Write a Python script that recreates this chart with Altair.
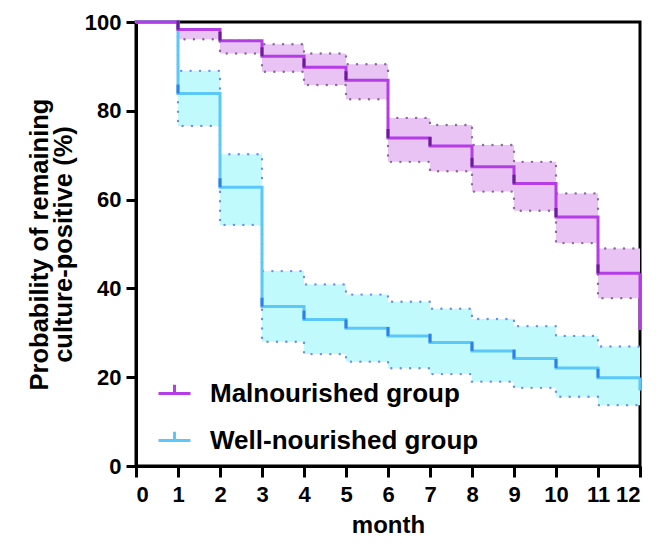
import altair as alt
import pandas as pd

months = list(range(0, 13))
groups = ["Malnourished group", "Well-nourished group"]

# step values for intervals starting at month 0..11
mal_est = [100, 98.3, 95.8, 92.3, 89.8, 86.9, 73.9, 72.1, 67.4, 63.6, 56.1, 43.4]
mal_hi = [100, 98.3, 95.8, 95.0, 92.9, 90.5, 78.4, 76.8, 72.3, 68.5, 61.4, 49.0]
mal_lo = [100, 96.1, 92.9, 88.8, 85.8, 82.6, 68.5, 66.4, 61.8, 57.5, 50.2, 37.8]
mal_end = 30.6

well_est = [100, 83.9, 62.8, 35.9, 33.0, 31.0, 29.3, 27.8, 25.9, 24.2, 22.1, 19.9]
well_hi = [100, 89.0, 70.2, 43.9, 40.9, 38.6, 37.0, 35.4, 33.1, 31.5, 29.3, 26.9]
well_lo = [100, 76.6, 54.3, 28.0, 25.2, 23.5, 22.0, 20.7, 19.0, 17.6, 15.6, 13.7]
well_end = 17.0

x_ticks = list(range(0, 13))
y_ticks = [0, 20, 40, 60, 80, 100]

line_colors = ["#B43DE6", "#5CC8FA"]
fill_colors = ["#E8C3F4", "#C0FAFC"]
dot_colors = ["#8A6A9C", "#6C8FF0"]
tick_colors = ["#6A1E96", "#2F7FE6"]

rows = []
for g, est, hi, lo in [(groups[0], mal_est, mal_hi, mal_lo), (groups[1], well_est, well_hi, well_lo)]:
    for i, m in enumerate(months):
        j = min(i, len(est) - 1)
        rows.append({"month": m, "group": g, "est": est[j], "hi": hi[j], "lo": lo[j]})
df = pd.DataFrame(rows)

ci_rows = []
for r in rows:
    ci_rows.append({"month": r["month"], "group": r["group"], "bound": "hi", "v": r["hi"]})
    ci_rows.append({"month": r["month"], "group": r["group"], "bound": "lo", "v": r["lo"]})
ci_df = pd.DataFrame(ci_rows)

tick_rows = []
for g, est in [(groups[0], mal_est), (groups[1], well_est)]:
    for m in range(1, 12):
        tick_rows.append({"month": m, "group": g, "y1": est[m], "y2": est[m] + 2.0})
tick_df = pd.DataFrame(tick_rows)

end_df = pd.DataFrame([
    {"month": 12, "group": groups[0], "y1": mal_est[-1], "y2": mal_end},
    {"month": 12, "group": groups[1], "y1": well_est[-1], "y2": well_end},
])

xs = alt.Scale(domain=[0, 12], nice=False)
ys = alt.Scale(domain=[0, 100], nice=False)

X = alt.X("month:Q", scale=xs,
          axis=alt.Axis(values=x_ticks, title="month", format="d"))
Y = alt.Y("est:Q", scale=ys,
          axis=alt.Axis(values=y_ticks,
                        title=["Probability of remaining", "culture-positive (%)"]))

fill_scale = alt.Scale(domain=groups, range=fill_colors)
line_scale = alt.Scale(domain=groups, range=line_colors)
dot_scale = alt.Scale(domain=groups, range=dot_colors)
tick_scale = alt.Scale(domain=groups, range=tick_colors)

area = alt.Chart(df).mark_area(interpolate="step-after", opacity=1).encode(
    x=X,
    y=alt.Y("lo:Q", scale=ys),
    y2="hi:Q",
    fill=alt.Fill("group:N", scale=fill_scale, legend=None),
    order=alt.Order("group:N", sort="descending"),
)

dots = alt.Chart(ci_df).mark_line(
    interpolate="step-after", strokeDash=[0.1, 9.3], strokeCap="round", strokeWidth=2.4
).encode(
    x=alt.X("month:Q", scale=xs),
    y=alt.Y("v:Q", scale=ys),
    stroke=alt.Stroke("group:N", scale=dot_scale, legend=None),
    detail="bound:N",
)

well_line = alt.Chart(df[df.group == groups[1]]).mark_line(
    interpolate="step-after", strokeWidth=3).encode(
    x=X, y=Y,
    color=alt.Color("group:N", scale=line_scale, title=None,
                    legend=alt.Legend(orient="none", legendX=21, legendY=354,
                                      symbolType="M-1,0L1,0M0,0L0,-0.55",
                                      symbolSize=1024, symbolStrokeWidth=3,
                                      labelFontSize=26, labelFont="Liberation Sans",
                                      labelFontWeight="bold", labelColor="black",
                                      labelOffset=18, rowPadding=16,
                                      labelLimit=400)),
)
mal_line = alt.Chart(df[df.group == groups[0]]).mark_line(
    interpolate="step-after", strokeWidth=3).encode(
    x=X, y=Y,
    color=alt.Color("group:N", scale=line_scale, legend=None),
)

ticks = alt.Chart(tick_df).mark_rule(strokeWidth=3).encode(
    x=alt.X("month:Q", scale=xs),
    y=alt.Y("y1:Q", scale=ys),
    y2="y2:Q",
    stroke=alt.Stroke("group:N", scale=tick_scale, legend=None),
)

ends = alt.Chart(end_df).mark_rule(strokeWidth=3).encode(
    x=alt.X("month:Q", scale=xs),
    y=alt.Y("y1:Q", scale=ys),
    y2="y2:Q",
    stroke=alt.Stroke("group:N", scale=line_scale, legend=None),
)

chart = alt.layer(area, dots, well_line, mal_line, ticks, ends).resolve_scale(
    color="independent", stroke="independent", fill="independent"
).properties(
    width=504, height=444,
    autosize=alt.AutoSizeParams(type="none"),
    padding={"left": 128, "top": 14, "right": 8, "bottom": 70},
).configure_view(
    stroke="black", strokeWidth=3
).configure_axis(
    labelFont="Liberation Sans", labelFontWeight="bold", labelFontSize=22,
    labelColor="black", titleFont="Liberation Sans", titleFontWeight="bold",
    titleColor="black", domainColor="black", domainWidth=3, tickColor="black",
    tickWidth=3, grid=False,
).configure_axisX(
    tickSize=11, labelPadding=7, titleFontSize=24, titlePadding=8,
).configure_axisY(
    tickSize=10, labelPadding=5, titleFontSize=25.5, titlePadding=8,
    titleLineHeight=24,
)

chart.save("out.html", embed_options={"renderer": "svg", "actions": False})
